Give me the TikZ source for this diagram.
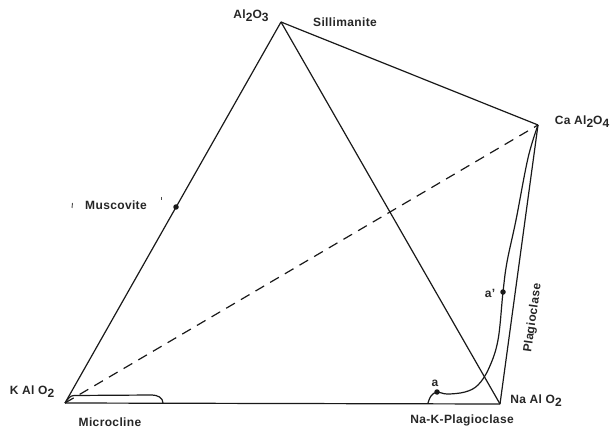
\documentclass[tikz,border=0pt]{standalone}
\usepackage{fontspec}
\setmainfont[LetterSpace=3]{Liberation Sans}
\newcommand{\lsub}[1]{\raisebox{-0.45ex}{#1}}
\begin{document}
\begin{tikzpicture}[x=1pt,y=-1pt,
  edge/.style={line width=1.2pt,black!90},
  lbl/.style={inner sep=0pt,font=\bfseries\fontsize{12}{14}\selectfont,text=black!85},
  dotm/.style={circle,fill=black!90,inner sep=0pt,minimum size=5.5pt}]
\useasboundingbox (0,0) rectangle (612,430);
\coordinate (A) at (281,22);
\coordinate (C) at (538,125);
\coordinate (K) at (65,403);
\coordinate (N) at (500,404);
% edges
\draw[edge] (K) -- (A);
\draw[edge] (A) -- (N);
\draw[edge] (A) -- (C);
\draw[edge] (C) -- (N);
\draw[edge] (K) -- (N);
\draw[edge,dash pattern=on 10pt off 7pt] (K) -- (C);
% microcline curve
\draw[edge] (K) to[out=50,in=180] (74,395.5) -- (152,395) to[out=0,in=90] (163,403);
% plagioclase curve
\draw[edge] plot[smooth,tension=0.6] coordinates {(538,125) (528,158) (516,220) (507,262) (503,292) (498,340) (489,368) (478,385) (465,392) (447,394) (437,392) (431,396) (428,403)};
% dots
\node[dotm] (mus) at (176,207) {};
\node[dotm] (da) at (437,392) {};
\node[dotm] (dap) at (503,292) {};
% small marks near Muscovite
\draw[line width=0.9pt,black!70] (72.5,203) -- (72,208);
\draw[line width=0.9pt,black!70] (161,197) -- (161,200);
% labels
\node[lbl] (lA) at (251,16) {Al\lsub{2}O\lsub{3}};
\node[lbl] (lS) at (345,22) {Sillimanite};
\node[lbl] (lC) at (582,122) {Ca Al\lsub{2}O\lsub{4}};
\node[lbl] (lM) at (116,205) {Muscovite};
\node[lbl] (lK) at (32,392) {K Al O\lsub{2}};
\node[lbl] (lMi) at (110,422) {Microcline};
\node[lbl] (lN) at (536,401) {Na Al O\lsub{2}};
\node[lbl] (lNK) at (462,420) {Na-K-Plagioclase};
\node[lbl,rotate=82] (lP) at (533,318) {Plagioclase};
\node[lbl] (la) at (435,383) {a};
\node[lbl] (lap) at (490,293) {a'};
\end{tikzpicture}
\end{document}
